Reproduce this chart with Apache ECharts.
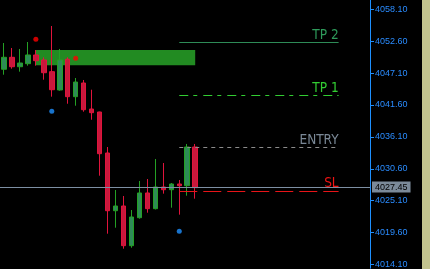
<!DOCTYPE html>
<html><head><meta charset="utf-8">
<script src="https://cdn.jsdelivr.net/npm/echarts@6/dist/echarts.min.js"></script>
<style>html,body{margin:0;padding:0;background:#c2c38e;}#c{width:422px;height:269px;background:#000;}</style>
</head><body><div id="c"></div>
<script>
// ---- data ----
const barLabels = ['b0','b1','b2','b3','b4','b5','b6','b7','b8','b9','b10','b11','b12','b13','b14','b15','b16','b17','b18','b19','b20','b21','b22','b23','b24',
  'b25','b26','b27','b28','b29','b30','b31','b32','b33','b34','b35','b36','b37','b38','b39','b40','b41','b42','b43','b44','b45'];
const opens  = [4047.79,4049.85,4048.23,4048.75,4050.25,4049.39,4047.38,4044.23,4049.51,4043.08,4045.43,4040.96,4040.45,4033.40,4023.48,4024.29,4017.47,4022.28,4026.53,4023.83,4027.56,4027.09,4028.07,4027.78,4034.43];
const closes = [4049.85,4048.23,4048.87,4050.25,4049.27,4047.20,4044.28,4049.39,4043.08,4045.60,4040.84,4040.33,4033.28,4023.48,4024.29,4017.47,4022.40,4026.53,4023.83,4027.56,4027.09,4028.07,4027.78,4034.43,4027.45];
const lows   = [4046.86,4047.89,4047.38,4048.41,4048.41,4046.00,4043.08,4044.11,4041.87,4041.53,4040.50,4039.12,4029.50,4019.53,4020.56,4016.95,4017.12,4022.11,4023.14,4023.70,4026.41,4024.00,4022.80,4026.06,4025.55];
const highs  = [4052.31,4051.45,4051.28,4052.48,4051.10,4049.85,4055.23,4051.28,4049.85,4046.29,4045.95,4044.28,4040.50,4034.43,4027.04,4026.01,4023.60,4028.59,4028.93,4032.37,4031.68,4028.24,4028.76,4034.95,4034.95];
const priceTicks = [4014.10,4019.60,4025.10,4030.60,4036.10,4041.60,4047.10,4052.60,4058.10];
const yMin = 4013.46, yMax = 4059.70;
const levelNames  = ['TP 2','TP 1','ENTRY','SL'];
const levelPrices = [4052.43,4043.32,4034.38,4026.87];
const levelFrom = 22, levelTo = 42;
const zoneFromBar = 4, zoneToBar = 24, zoneTop = 4051.1, zoneBottom = 4048.5;
const currentPrice = 4027.45;
const redDots  = [[4,4052.94],[9,4049.68]];
const blueDots = [[6,4040.57],[22,4019.94]];

// ---- styles ----
const levelStyles = [
  {color:'#2e8b57', type:'solid', text:'#2e9a5a'},
  {color:'#32cd32', type:[9,5,4,6], text:'#32cd32'},
  {color:'#8c8c8c', type:[4,4], text:'#7a8896'},
  {color:'#e81418', type:[18,6], text:'#f01414'}
];
const lblFont = '"DejaVu Sans Condensed","Liberation Sans Narrow",sans-serif';

const candleData = opens.map((o,i)=>[o, closes[i], lows[i], highs[i]]);
const levelLines = levelNames.map((n,i)=>[
  {coord:[barLabels[levelFrom], levelPrices[i]],
   lineStyle:{color:levelStyles[i].color, type:levelStyles[i].type, width:1},
   label:{show:true, formatter:n, position:'insideEndTop', distance:[0,0], color:levelStyles[i].text,
          fontFamily:lblFont, fontSize:13.5}},
  {coord:[barLabels[levelTo], levelPrices[i]]}
]);

const chart = echarts.init(document.getElementById('c'), null, {renderer:'canvas'});
chart.setOption({
  animation:false,
  backgroundColor:'#000',
  grid:[
    {left:-1.5, top:0, width:368, height:269, containLabel:false},
    {left:0, top:0, width:370, height:269, containLabel:false}
  ],
  xAxis:[
    {type:'category', gridIndex:0, data:barLabels, show:false, boundaryGap:true},
    {type:'value', gridIndex:1, show:false, min:0, max:1}
  ],
  yAxis:[
    {type:'value', gridIndex:0, show:false, min:yMin, max:yMax, scale:true},
    {type:'value', gridIndex:1, position:'right', min:yMin, max:yMax, scale:true,
     splitLine:{show:false},
     axisLine:{show:true, onZero:false, lineStyle:{color:'#1e90ff', width:1}},
     axisTick:{show:true, length:4, customValues:priceTicks, lineStyle:{color:'#1e90ff'}},
     axisLabel:{show:true, customValues:priceTicks, margin:5, color:'#2a8cff',
       fontFamily:'"Liberation Sans",Arial,sans-serif', fontSize:9,
       formatter:v=>Number(v).toFixed(2)}}
  ],
  series:[
    {type:'scatter', xAxisIndex:0, yAxisIndex:0, data:[], z:1, silent:true,
     markArea:{silent:true, itemStyle:{color:'#228b22', opacity:1},
       data:[[{coord:[barLabels[zoneFromBar], zoneTop]},{coord:[barLabels[zoneToBar], zoneBottom]}]]}},
    {type:'line', xAxisIndex:1, yAxisIndex:1, data:[], z:2, silent:true,
     markLine:{silent:true, symbol:'none', animation:false,
       lineStyle:{color:'#7d8fa3', type:'solid', width:1},
       label:{show:true, position:'end', distance:2, formatter:()=>currentPrice.toFixed(2),
         backgroundColor:'#7b8a99', color:'#000', padding:[1,3,1,3],
         fontFamily:'"Liberation Sans",Arial,sans-serif', fontSize:9},
       data:[{yAxis:currentPrice}]}},
    {type:'candlestick', xAxisIndex:0, yAxisIndex:0, data:candleData, barWidth:5, z:3,
     itemStyle:{color:'#2e8b57', color0:'#c8183c', borderColor:'#24a024', borderColor0:'#e0143c', borderWidth:1},
     markLine:{silent:true, symbol:'none', animation:false, data:levelLines}},
    {type:'scatter', xAxisIndex:0, yAxisIndex:0, data:redDots, symbol:'circle', symbolSize:5, z:4,
     itemStyle:{color:'#ff0000'}},
    {type:'scatter', xAxisIndex:0, yAxisIndex:0, data:blueDots, symbol:'circle', symbolSize:5, z:4,
     itemStyle:{color:'#1e90ff'}}
  ]
});
</script></body></html>
